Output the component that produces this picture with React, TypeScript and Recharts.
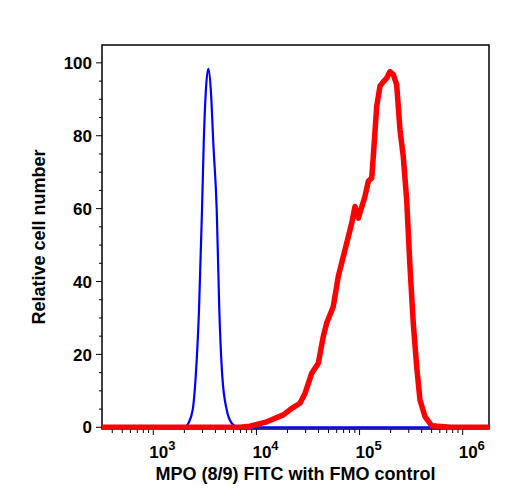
import { LineChart, Line, XAxis, YAxis, ReferenceArea } from 'recharts'

const FONT = '"Liberation Sans", Arial, Helvetica, sans-serif'

// FMO control (blue), fluorescence intensity vs relative cell number
const blueX = [318, 1450, 2030, 2185, 2410, 2577, 2774, 2967, 3083, 3223, 3415, 3627, 3818, 4120, 4365, 4668, 5149, 5757, 6437, 7700, 1800000]
const blueY = [0, 0, 0, 1.1, 4.8, 13.9, 32.2, 59.7, 78, 91.7, 98.4, 91.7, 78, 59.7, 32.2, 13.9, 4.8, 1.1, 0.2, 0, 0]

// MPO (8/9) FITC stained (red)
const redX = [318, 6900, 8670, 12590, 18240, 21980, 26440, 29580, 34350, 39810, 44490, 47980, 55590, 62210, 75010, 83950, 90360, 97270, 112980, 121620, 131220, 135910, 146620, 157800, 169820, 183230, 197200, 212380, 229090, 246610, 265460, 286420, 308310, 331880, 358100, 385470, 431500, 501200, 753300, 1800000]
const redY = [0, 0, 0.3, 1.5, 3.4, 5.2, 6.6, 9.3, 14.8, 17.6, 24.9, 28.6, 33.1, 41.4, 50.5, 56, 60.6, 57.4, 63.4, 67.5, 68.4, 74.3, 88, 93.6, 94.8, 95.8, 97.6, 96.8, 94, 81.7, 74.3, 62.4, 44.1, 28.6, 16.6, 7.5, 2.9, 0.4, 0, 0]

const xMajor = [1000, 10000, 100000, 1000000]
const xMinor = [400, 500, 600, 700, 800, 900, 2000, 3000, 4000, 5000, 6000, 7000, 8000, 9000, 20000, 30000, 40000, 50000, 60000, 70000, 80000, 90000, 200000, 300000, 400000, 500000, 600000, 700000, 800000, 900000]
const yTicks = [0, 5, 10, 15, 20, 25, 30, 35, 40, 45, 50, 55, 60, 65, 70, 75, 80, 85, 90, 95, 100]

const xDomain = [318, 1800000]
const yDomain = [-0.47, 104.9]

const blueData = blueX.map((x, i) => ({ x, y: blueY[i] }))
const redData = redX.map((x, i) => ({ x, y: redY[i] }))

function XTick({ x, y, payload }: any) {
  const v = payload.value
  const exp = Math.round(Math.log10(v))
  const major = xMajor.includes(v)
  return (
    <g>
      <line x1={x} x2={x} y1={y} y2={y + (major ? 6 : 4)} stroke="#000" strokeWidth={1} />
      {major && (
        <text x={x - 4} y={y + 29} fontSize={17} fontWeight="bold" fontFamily={FONT} fill="#000">
          10<tspan dy={-8} fontSize={13}>{exp}</tspan>
        </text>
      )}
    </g>
  )
}

function YTick({ x, y, payload }: any) {
  const v = payload.value
  const major = v % 20 === 0
  return (
    <g>
      <line x1={x} x2={x - (major ? 6 : 3)} y1={y} y2={y} stroke="#000" strokeWidth={1} />
      {major && (
        <text x={x - 10} y={y} dy="0.36em" textAnchor="end" fontSize={17} fontWeight="bold" fontFamily={FONT} fill="#000">
          {v}
        </text>
      )}
    </g>
  )
}

export default function App() {
  return (
    <LineChart width={500} height={484} margin={{ top: 37, right: 19, bottom: 0, left: 0 }}>
      <XAxis
        type="number"
        dataKey="x"
        scale="log"
        domain={xDomain}
        ticks={[...xMinor, ...xMajor]}
        interval={0}
        tick={XTick}
        tickLine={false}
        axisLine={false}
        tickSize={0}
        tickMargin={0}
        height={63}
        label={{
          content: ({ viewBox }: any) => (
            <text
              x={viewBox.x + viewBox.width / 2}
              y={viewBox.y + 51}
              textAnchor="middle"
              fontSize={18}
              fontWeight="bold"
              fontFamily={FONT}
              fill="#000"
            >
              MPO (8/9) FITC with FMO control
            </text>
          ),
        }}
      />
      <YAxis
        type="number"
        dataKey="y"
        domain={yDomain}
        ticks={yTicks}
        interval={0}
        tick={YTick}
        tickLine={false}
        axisLine={false}
        tickSize={0}
        tickMargin={0}
        width={94}
        label={{
          content: ({ viewBox }: any) => {
            const cx = 37
            const cy = viewBox.y + viewBox.height / 2
            return (
              <text
                x={cx}
                y={cy}
                transform={`rotate(-90, ${cx}, ${cy})`}
                textAnchor="middle"
                fontSize={18}
                fontWeight="bold"
                fontFamily={FONT}
                fill="#000"
              >
                Relative cell number
              </text>
            )
          },
        }}
      />
      <ReferenceArea
        x1={xDomain[0]}
        x2={xDomain[1]}
        y1={yDomain[0]}
        y2={yDomain[1]}
        fill="none"
        stroke="#000"
        strokeWidth={1.5}
        fillOpacity={0}
      />
      <Line
        data={blueData}
        dataKey="y"
        type="monotone"
        stroke="#0000ff"
        strokeWidth={2.2}
        dot={false}
        isAnimationActive={false}
      />
      <Line
        data={redData}
        dataKey="y"
        type="linear"
        stroke="#ff0000"
        strokeWidth={5.5}
        strokeLinejoin="round"
        dot={false}
        isAnimationActive={false}
      />
    </LineChart>
  )
}
